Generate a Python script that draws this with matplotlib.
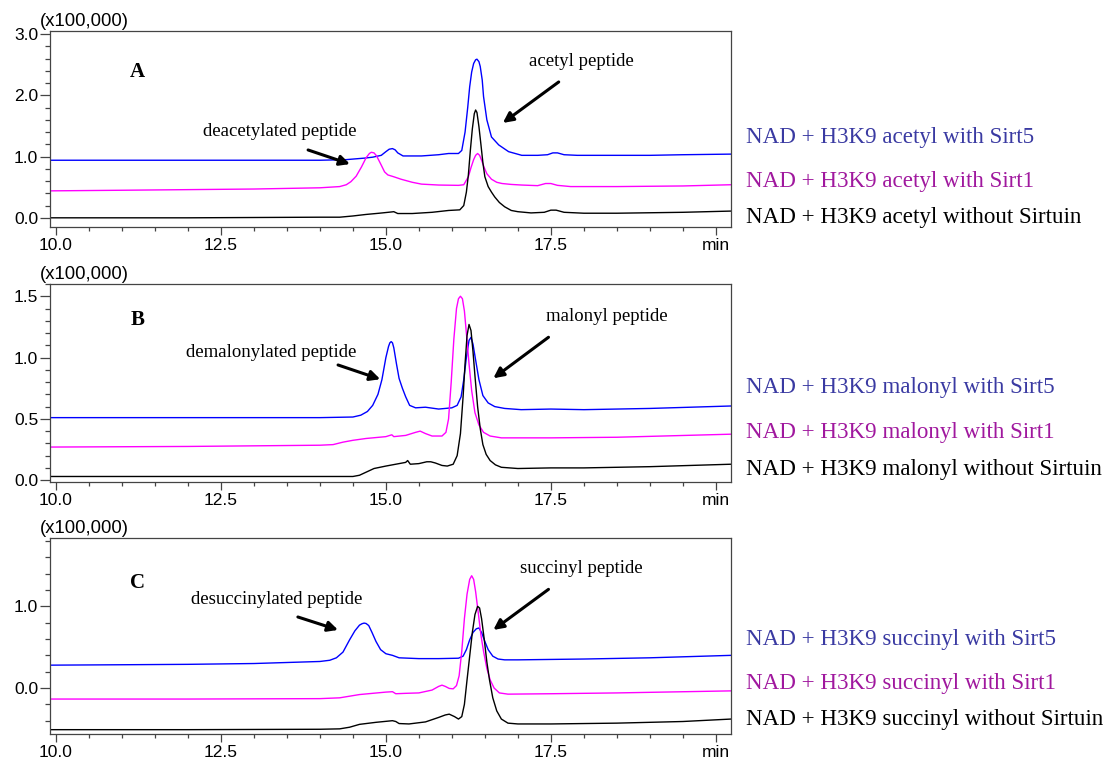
import matplotlib
matplotlib.use("Agg")
import matplotlib.pyplot as plt
from matplotlib.ticker import FixedLocator, MultipleLocator, FixedFormatter

# ---------------- chromatogram traces (retention time in min, intensity x100,000) ----------------
# Panel A: H3K9 acetyl
a_sirt5_t = [9.91, 11.0, 12.0, 13.0, 14.0, 14.4, 14.68, 14.8, 14.93, 15.0, 15.05, 15.1, 15.14, 15.18,
             15.26, 15.54, 15.8, 15.95, 16.1, 16.15, 16.2, 16.24, 16.27, 16.3, 16.33, 16.36, 16.38, 16.41,
             16.43, 16.46, 16.48, 16.53, 16.6, 16.71, 16.86, 17.06, 17.3, 17.45, 17.53, 17.6, 17.7, 17.9,
             18.5, 19.0, 19.5, 20.23]
a_sirt5 = [0.94, 0.94, 0.94, 0.94, 0.94, 0.95, 0.975, 0.99, 1.02, 1.08, 1.12, 1.13, 1.11, 1.06,
           1.01, 1.01, 1.03, 1.05, 1.05, 1.10, 1.40, 1.80, 2.14, 2.38, 2.52, 2.58, 2.59, 2.55,
           2.47, 2.25, 1.98, 1.60, 1.32, 1.19, 1.08, 1.02, 1.02, 1.03, 1.06, 1.06, 1.03, 1.02,
           1.02, 1.02, 1.03, 1.04]

a_sirt1_t = [9.91, 11.0, 12.0, 13.0, 14.0, 14.3, 14.4, 14.47, 14.55, 14.63, 14.7, 14.75, 14.78, 14.82,
             14.86, 14.93, 14.98, 15.03, 15.12, 15.23, 15.4, 15.54, 15.8, 16.1, 16.18, 16.25, 16.29, 16.33,
             16.36, 16.39, 16.42, 16.45, 16.49, 16.53, 16.6, 16.68, 16.76, 16.9, 17.06, 17.3, 17.42, 17.5,
             17.6, 17.8, 18.5, 19.5, 20.23]
a_sirt1 = [0.44, 0.45, 0.46, 0.47, 0.49, 0.51, 0.54, 0.59, 0.68, 0.83, 0.98, 1.05, 1.07, 1.06,
           1.01, 0.86, 0.75, 0.70, 0.67, 0.63, 0.58, 0.55, 0.535, 0.53, 0.54, 0.67, 0.82, 0.95,
           1.02, 1.05, 1.02, 0.94, 0.82, 0.72, 0.63, 0.58, 0.56, 0.545, 0.535, 0.525, 0.56, 0.56,
           0.53, 0.51, 0.51, 0.52, 0.54]

a_none_t = [9.91, 11.0, 12.0, 13.0, 14.0, 14.3, 14.5, 14.7, 14.9, 15.08, 15.12, 15.18, 15.4, 15.7,
            15.95, 16.12, 16.18, 16.22, 16.25, 16.28, 16.31, 16.34, 16.36, 16.38, 16.41, 16.44, 16.47,
            16.5, 16.55, 16.6, 16.65, 16.72, 16.8, 16.9, 17.0, 17.2, 17.4, 17.5, 17.58, 17.7, 18.0,
            18.5, 19.5, 20.23]
a_none = [0.0, 0.0, 0.0, 0.005, 0.01, 0.01, 0.03, 0.055, 0.075, 0.095, 0.10, 0.07, 0.07, 0.09,
          0.12, 0.13, 0.20, 0.42, 0.70, 1.10, 1.45, 1.70, 1.76, 1.72, 1.49, 1.20, 0.90,
          0.67, 0.51, 0.42, 0.34, 0.25, 0.18, 0.12, 0.10, 0.08, 0.09, 0.125, 0.125, 0.09, 0.075,
          0.075, 0.09, 0.11]

# Panel B: H3K9 malonyl
b_sirt5_t = [9.91, 12.0, 14.0, 14.5, 14.62, 14.72, 14.8, 14.88, 14.94, 15.0, 15.04, 15.06, 15.08, 15.1,
             15.12, 15.16, 15.2, 15.25, 15.3, 15.36, 15.45, 15.6, 15.8, 16.0, 16.08, 16.14, 16.18, 16.22,
             16.26, 16.29, 16.32, 16.36, 16.41, 16.47, 16.55, 16.65, 16.8, 17.05, 17.5, 18.0, 19.0, 20.23]
b_sirt5 = [0.51, 0.51, 0.51, 0.515, 0.53, 0.56, 0.61, 0.70, 0.82, 1.00, 1.09, 1.12, 1.13, 1.12,
           1.08, 0.95, 0.83, 0.75, 0.68, 0.61, 0.59, 0.595, 0.58, 0.59, 0.61, 0.68, 0.82, 1.00,
           1.14, 1.165, 1.11, 0.98, 0.82, 0.69, 0.63, 0.60, 0.585, 0.575, 0.58, 0.575, 0.585, 0.605]

b_sirt1_t = [9.91, 12.0, 14.0, 14.2, 14.35, 14.5, 14.7, 15.0, 15.09, 15.12, 15.3, 15.45, 15.52, 15.6,
             15.7, 15.85, 15.91, 15.95, 15.99, 16.03, 16.07, 16.1, 16.13, 16.16, 16.19, 16.22, 16.26,
             16.3, 16.35, 16.41, 16.48, 16.58, 16.75, 17.5, 18.5, 20.23]
b_sirt1 = [0.27, 0.275, 0.285, 0.29, 0.31, 0.325, 0.34, 0.355, 0.37, 0.355, 0.365, 0.39, 0.40, 0.38,
           0.36, 0.36, 0.39, 0.50, 0.80, 1.15, 1.40, 1.48, 1.50, 1.48, 1.38, 1.20, 0.95,
           0.73, 0.55, 0.45, 0.39, 0.36, 0.345, 0.345, 0.35, 0.375]

b_none_t = [9.91, 12.0, 14.0, 14.5, 14.6, 14.7, 14.82, 15.0, 15.2, 15.3, 15.33, 15.37, 15.5, 15.62,
            15.68, 15.75, 15.85, 15.93, 16.02, 16.08, 16.13, 16.17, 16.2, 16.23, 16.26, 16.29, 16.32,
            16.35, 16.39, 16.43, 16.47, 16.52, 16.58, 16.66, 16.75, 17.0, 17.5, 18.0, 19.0, 20.23]
b_none = [0.03, 0.03, 0.03, 0.03, 0.04, 0.065, 0.095, 0.115, 0.135, 0.145, 0.16, 0.13, 0.135, 0.15,
          0.15, 0.14, 0.12, 0.115, 0.13, 0.20, 0.38, 0.68, 0.95, 1.18, 1.27, 1.22, 1.05,
          0.85, 0.60, 0.42, 0.29, 0.21, 0.16, 0.125, 0.105, 0.095, 0.10, 0.10, 0.11, 0.13]

# Panel C: H3K9 succinyl
c_sirt5_t = [9.91, 11.0, 12.0, 13.0, 14.0, 14.15, 14.25, 14.35, 14.45, 14.53, 14.6, 14.64, 14.67, 14.7,
             14.74, 14.79, 14.85, 14.92, 15.0, 15.1, 15.2, 15.5, 15.8, 16.1, 16.17, 16.22, 16.27, 16.32,
             16.37, 16.41, 16.45, 16.5, 16.55, 16.62, 16.7, 16.8, 17.0, 17.5, 18.0, 19.0, 20.23]
c_sirt5 = [0.28, 0.285, 0.29, 0.30, 0.325, 0.34, 0.37, 0.44, 0.59, 0.70, 0.77, 0.788, 0.795, 0.79,
           0.765, 0.68, 0.57, 0.47, 0.42, 0.40, 0.37, 0.36, 0.36, 0.365, 0.39, 0.47, 0.59, 0.68,
           0.725, 0.735, 0.68, 0.57, 0.47, 0.39, 0.355, 0.345, 0.345, 0.35, 0.355, 0.37, 0.40]

c_sirt1_t = [9.91, 12.0, 14.0, 14.3, 14.45, 14.6, 14.8, 15.0, 15.1, 15.15, 15.3, 15.5, 15.7, 15.8,
             15.85, 15.9, 15.96, 16.02, 16.07, 16.11, 16.15, 16.19, 16.23, 16.27, 16.3, 16.33, 16.36,
             16.4, 16.44, 16.48, 16.53, 16.58, 16.64, 16.72, 16.85, 17.5, 18.5, 20.23]
c_sirt1 = [-0.135, -0.135, -0.13, -0.12, -0.10, -0.08, -0.065, -0.05, -0.045, -0.07, -0.065, -0.06, -0.025, 0.02,
           0.035, 0.02, -0.005, -0.01, 0.03, 0.15, 0.45, 0.85, 1.15, 1.33, 1.375, 1.33, 1.18,
           0.92, 0.65, 0.45, 0.24, 0.10, 0.0, -0.06, -0.075, -0.07, -0.06, -0.035]

c_none_t = [9.91, 12.0, 14.0, 14.3, 14.45, 14.6, 14.85, 15.1, 15.15, 15.2, 15.35, 15.6, 15.8, 15.9,
            15.96, 16.04, 16.1, 16.15, 16.19, 16.23, 16.27, 16.31, 16.35, 16.39, 16.42, 16.45, 16.49,
            16.53, 16.57, 16.62, 16.68, 16.75, 16.85, 17.0, 17.5, 18.5, 19.5, 20.23]
c_none = [-0.51, -0.51, -0.505, -0.50, -0.48, -0.445, -0.42, -0.40, -0.41, -0.435, -0.44, -0.415, -0.36, -0.33,
          -0.32, -0.35, -0.38, -0.35, -0.20, 0.10, 0.39, 0.68, 0.90, 1.00, 0.98, 0.85, 0.60,
          0.32, 0.10, -0.12, -0.28, -0.38, -0.43, -0.44, -0.44, -0.43, -0.41, -0.38]

# ---------------- axis settings ----------------
x_major = [10.0, 12.5, 15.0, 17.5, 20.0]
x_labels = ["10.0", "12.5", "15.0", "17.5", "min"]

panel_letters = ["A", "B", "C"]
modifications = ["acetyl", "malonyl", "succinyl"]
substrate_labels = ["acetyl peptide", "malonyl peptide", "succinyl peptide"]
product_labels = ["deacetylated peptide", "demalonylated peptide", "desuccinylated peptide"]
condition_suffix = ["with Sirt5", "with Sirt1", "without Sirtuin"]

y_limits = [(-0.15, 3.05), (-0.015, 1.60), (-0.563, 1.837)]
y_major = [[0.0, 1.0, 2.0, 3.0], [0.0, 0.5, 1.0, 1.5], [0.0, 1.0]]
y_minor_step = [0.2, 0.1, 0.2]

traces = [
    [(a_sirt5_t, a_sirt5), (a_sirt1_t, a_sirt1), (a_none_t, a_none)],
    [(b_sirt5_t, b_sirt5), (b_sirt1_t, b_sirt1), (b_none_t, b_none)],
    [(c_sirt5_t, c_sirt5), (c_sirt1_t, c_sirt1), (c_none_t, c_none)],
]

line_colors = ["#0000ff", "#ff00ff", "#000000"]
label_colors = ["#3a3aa2", "#a0189e", "#000000"]

# ---------------- layout (pixels on a 1112 x 766 canvas) ----------------
W, H = 1112, 766
ax_left_px, ax_right_px = 50, 731
panel_tb_px = [(31, 227), (284, 482), (538, 734)]
label_rows_px = [(137, 181, 218), (387, 432, 469), (640, 683, 720)]

# annotation placement in axes fractions
letter_pos = [(0.129, 0.79), (0.129, 0.818), (0.129, 0.77)]
substrate_text = [(0.704, 0.842), (0.729, 0.835), (0.690, 0.845)]
substrate_arrow = [((0.747, 0.740), (0.665, 0.531)),
                   ((0.732, 0.731), (0.651, 0.524)),
                   ((0.732, 0.738), (0.651, 0.531))]
product_text = [(0.450, 0.486), (0.450, 0.652), (0.458, 0.687)]
product_arrow = [((0.379, 0.393), (0.4405, 0.321)),
                 ((0.423, 0.591), (0.485, 0.519)),
                 ((0.364, 0.597), (0.423, 0.531))]

SANS = "Liberation Sans"
SERIF = "Liberation Serif"
frame_color = "#444444"

fig = plt.figure(figsize=(W / 100, H / 100), dpi=100)
fig.patch.set_facecolor("white")

for i in range(3):
    top_px, bot_px = panel_tb_px[i]
    ax = fig.add_axes([ax_left_px / W, 1 - bot_px / H,
                       (ax_right_px - ax_left_px) / W, (bot_px - top_px) / H])

    for (t, y), col in zip(traces[i], line_colors):
        ax.plot(t, y, color=col, lw=1.0, solid_joinstyle="round")

    ax.set_xlim(9.91, 20.23)
    ax.set_ylim(*y_limits[i])

    ax.xaxis.set_major_locator(FixedLocator(x_major))
    ax.xaxis.set_major_formatter(FixedFormatter(x_labels))
    ax.xaxis.set_minor_locator(MultipleLocator(0.5))
    ax.yaxis.set_major_locator(FixedLocator(y_major[i]))
    ax.yaxis.set_major_formatter(FixedFormatter([f"{v:.1f}" for v in y_major[i]]))
    ax.yaxis.set_minor_locator(MultipleLocator(y_minor_step[i]))

    ax.tick_params(axis="both", which="both", direction="out", color=frame_color, width=0.9)
    ax.tick_params(axis="y", which="major", length=7, pad=1.5)
    ax.tick_params(axis="y", which="minor", length=3.5)
    ax.tick_params(axis="x", which="major", length=6, pad=2)
    ax.tick_params(axis="x", which="minor", length=3)
    for lab in ax.get_xticklabels() + ax.get_yticklabels():
        lab.set_fontfamily(SANS)
        lab.set_fontsize(12.5)
    for sp in ax.spines.values():
        sp.set_color(frame_color)
        sp.set_linewidth(0.9)

    # scale factor above the y axis
    fig.text(40 / W, 1 - (top_px - 1) / H, "(x100,000)", ha="left", va="bottom",
             family=SANS, fontsize=13.3)

    # panel letter
    ax.text(*letter_pos[i], panel_letters[i], transform=ax.transAxes, ha="center", va="center",
            family=SERIF, fontweight="bold", fontsize=15)

    # substrate peak label + arrow
    ax.text(*substrate_text[i], substrate_labels[i], transform=ax.transAxes, ha="left", va="center",
            family=SERIF, fontsize=13.5)
    tail, head = substrate_arrow[i]
    ax.annotate("", xy=head, xytext=tail, xycoords="axes fraction", textcoords="axes fraction",
                arrowprops=dict(arrowstyle="-|>", color="black", lw=2.2, mutation_scale=15,
                                shrinkA=0, shrinkB=0))

    # product peak label + arrow
    ax.text(*product_text[i], product_labels[i], transform=ax.transAxes, ha="right", va="center",
            family=SERIF, fontsize=13.5)
    tail, head = product_arrow[i]
    ax.annotate("", xy=head, xytext=tail, xycoords="axes fraction", textcoords="axes fraction",
                arrowprops=dict(arrowstyle="-|>", color="black", lw=2.2, mutation_scale=15,
                                shrinkA=0, shrinkB=0))

    # trace labels to the right of each panel
    for row_px, suffix, col in zip(label_rows_px[i], condition_suffix, label_colors):
        fig.text(746 / W, 1 - row_px / H, f"NAD + H3K9 {modifications[i]} {suffix}",
                 ha="left", va="center", family=SERIF, fontsize=16.6, color=col)

fig.savefig("out.png", dpi=100, facecolor="white")
